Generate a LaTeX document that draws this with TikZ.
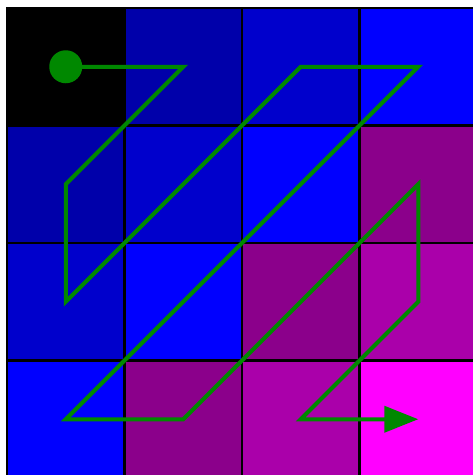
\documentclass[tikz,border=0pt]{standalone}
\usetikzlibrary{arrows.meta}
\definecolor{k0}{RGB}{0,0,0}
\definecolor{k1}{RGB}{0,0,170}
\definecolor{k2}{RGB}{0,0,204}
\definecolor{k3}{RGB}{0,0,255}
\definecolor{k4}{RGB}{139,0,139}
\definecolor{k5}{RGB}{170,0,170}
\definecolor{k6}{RGB}{255,0,255}
\definecolor{pathgreen}{RGB}{0,136,0}
\tikzset{
  cell/.style={draw=black, line width=2.5pt, minimum size=117.5pt, inner sep=0pt, outer sep=0pt, rectangle},
  zig/.style={draw=pathgreen, line width=4pt, line join=miter},
  startdot/.style={circle, fill=pathgreen, minimum size=33pt, inner sep=0pt}
}
\begin{document}
\begin{tikzpicture}[x=1pt,y=-1pt]
\useasboundingbox (0,0) rectangle (473,475);
\clip (0,0) rectangle (473,475);
\fill[white] (0,0) rectangle (473,475);
\foreach \i in {0,1,2,3}{
  \foreach \j in {0,1,2,3}{
    \pgfmathtruncatemacro{\s}{\i+\j}
    \node[cell, fill=k\s] (c\i\j) at ({7+117.5*(\i+0.5)},{8+117.5*(\j+0.5)}) {};
  }
}
\node[startdot] (start) at (c00.center) {};
\draw[zig, -{Triangle[length=34pt,width=26pt]}]
  (start.center) -- (c10.center) -- (c01.center) -- (c02.center) -- (c20.center)
  -- (c30.center) -- (c03.center) -- (c13.center) -- (c31.center) -- (c32.center)
  -- (c23.center) -- (c33.center);
\end{tikzpicture}
\end{document}
